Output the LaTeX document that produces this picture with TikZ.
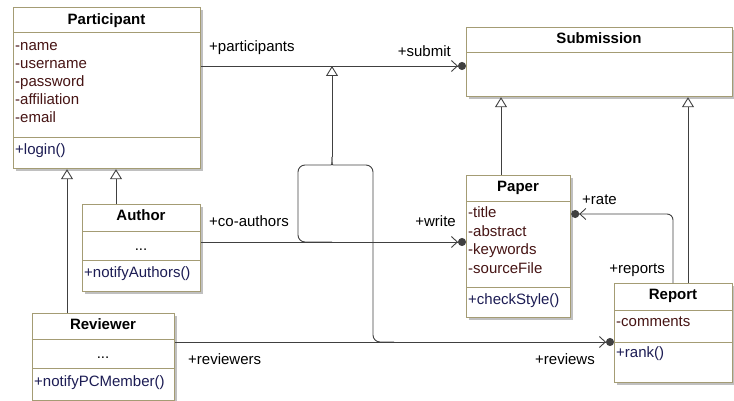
\documentclass[tikz,border=0pt]{standalone}
\usepackage{fontspec}
\setmainfont{Liberation Sans}
\usetikzlibrary{arrows.meta,calc}
\definecolor{bordercol}{RGB}{164,156,116}
\definecolor{shadowcol}{RGB}{192,192,192}
\definecolor{attrcol}{RGB}{70,20,20}
\definecolor{opcol}{RGB}{28,28,84}
\definecolor{linecol}{RGB}{64,64,64}
\newcommand{\umlclass}[5]{%
  \fill[shadowcol] (#2+3,#3+3) rectangle (#4+3,#5+3);
  \node[classbox, minimum width={#4-#2}, minimum height={#5-#3}] (#1) at (#2,#3) {};
}
\begin{document}
\begin{tikzpicture}[x=1pt,y=-1pt,
  font=\fontsize{15}{18}\selectfont,
  txt/.style={inner sep=0pt, text height=11.5pt, text depth=2.5pt},
  classbox/.style={draw=bordercol, line width=1.2pt, fill=white, inner sep=0pt, anchor=north west, rectangle},
  sepline/.style={draw=bordercol, line width=1pt},
  title/.style={txt, font=\fontsize{15}{18}\selectfont\bfseries},
  attr/.style={txt, text=attrcol, anchor=west},
  oper/.style={txt, text=opcol, anchor=west},
  lbl/.style={txt},
  conn/.style={draw=linecol, line width=0.9pt},
  nav/.style={conn, -{Straight Barb[length=6pt,width=11pt,line width=0.9pt]Circle[length=8pt,width=8pt]}},
  gen/.style={conn, -{Triangle[open,length=10pt,width=12pt,fill=white,line width=0.9pt]}}
]
\useasboundingbox (0,0) rectangle (734,401);

% Participant
\umlclass{participant}{13}{7}{200}{168}
\draw[sepline] (13,33) -- (200,33);
\draw[sepline] (13,138) -- (200,138);
\node[title] (participantT) at (106.5,20) {Participant};
\node[attr] (pa1) at (15,46) {-name};
\node[attr] (pa2) at (15,64) {-username};
\node[attr] (pa3) at (15,82) {-password};
\node[attr] (pa4) at (15,100) {-affiliation};
\node[attr] (pa5) at (15,118) {-email};
\node[oper] (po1) at (15,150) {+login()};

% Author
\umlclass{author}{82}{204}{200}{291}
\draw[sepline] (82,231) -- (200,231);
\draw[sepline] (82,260) -- (200,260);
\node[title] (authorT) at (141,216) {Author};
\node[lbl] (aa1) at (141,246) {...};
\node[oper] (ao1) at (84,273) {+notifyAuthors()};

% Reviewer
\umlclass{reviewer}{32}{313}{174}{400}
\draw[sepline] (32,339) -- (174,339);
\draw[sepline] (32,368) -- (174,368);
\node[title] (reviewerT) at (103,325) {Reviewer};
\node[lbl] (ra1) at (103,354) {...};
\node[oper] (ro1) at (34,382) {+notifyPCMember()};

% Submission
\umlclass{submission}{466}{27}{732}{96}
\draw[sepline] (466,53) -- (732,53);
\node[title] (submissionT) at (599,39) {Submission};

% Paper
\umlclass{paper}{466}{175}{570}{317}
\draw[sepline] (466,202) -- (570,202);
\draw[sepline] (466,287) -- (570,287);
\node[title] (paperT) at (518,187) {Paper};
\node[attr] (pp1) at (468,213) {-title};
\node[attr] (pp2) at (468,232) {-abstract};
\node[attr] (pp3) at (468,250) {-keywords};
\node[attr] (pp4) at (468,269) {-sourceFile};
\node[oper] (po2) at (468,300) {+checkStyle()};

% Report
\umlclass{report}{614}{283}{732}{382}
\draw[sepline] (614,310) -- (732,310);
\draw[sepline] (614,342) -- (732,342);
\node[title] (reportT) at (673,295) {Report};
\node[attr] (rp1) at (616,322) {-comments};
\node[oper] (rpo1) at (616,353) {+rank()};

% generalizations
\draw[gen] (author.north -| 116,0) -- (participant.south -| 116,0);
\draw[gen] (reviewer.north -| 67,0) -- (participant.south -| 67,0);
\draw[gen] (paper.north -| 501,0) -- (submission.south -| 501,0);
\draw[gen] (report.north -| 688,0) -- (submission.south -| 688,0);

% associations
\coordinate (asA) at (332,66);
\coordinate (asB) at (332,242);
\coordinate (asC) at (394,342);
\draw[nav] (participant.east |- asA) -- (submission.west |- asA);
\draw[nav] (author.east |- asB) -- (paper.west |- asB);
\draw[nav] (reviewer.east |- asC) -- (report.west |- asC);
\draw[nav, rounded corners=6] (report.north -| 673,0) -- (673,214) -- (paper.east |- 0,214);

% association generalization
\coordinate (fork) at (332,157);
\draw[gen] (fork) -- (asA);
\draw[conn, rounded corners=7] (fork) .. controls (332,165) .. (324,165) -- (298,165) -- (298,242) -- (asB);
\draw[conn, rounded corners=7] (fork) .. controls (332,165) .. (340,165) -- (373,165) -- (373,342) -- (asC);

% role labels
\node[lbl, anchor=west] (l1) at (209,47) {+participants};
\node[lbl, anchor=east] (l2) at (451,52) {+submit};
\node[lbl, anchor=west] (l3) at (209,222) {+co-authors};
\node[lbl, anchor=east] (l4) at (456,222) {+write};
\node[lbl, anchor=west] (l5) at (188,360) {+reviewers};
\node[lbl, anchor=east] (l6) at (595,360) {+reviews};
\node[lbl, anchor=west] (l7) at (582,200) {+rate};
\node[lbl, anchor=east] (l8) at (665,269) {+reports};
\end{tikzpicture}
\end{document}
